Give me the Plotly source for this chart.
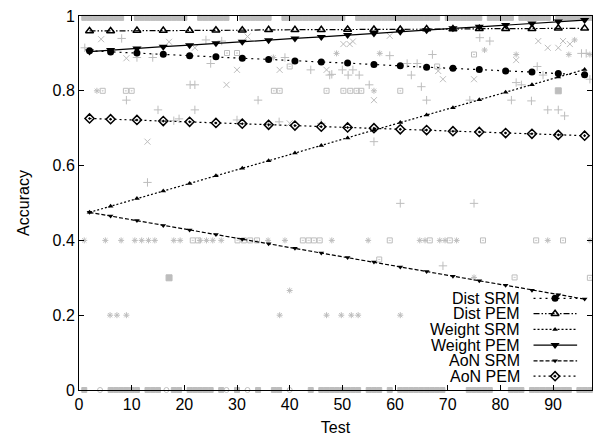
import plotly.graph_objects as go

# ---------------- data ----------------
mark_x = [2, 6, 11, 16, 21, 26, 31, 36, 41, 46, 51, 56, 61, 66, 71, 76, 81, 86, 91, 96]

dist_srm = [0.907, 0.904, 0.901, 0.898, 0.894, 0.891, 0.887, 0.884, 0.880, 0.877,
            0.874, 0.870, 0.867, 0.863, 0.860, 0.857, 0.853, 0.850, 0.846, 0.843]
dist_pem = [0.960, 0.960, 0.961, 0.961, 0.961, 0.962, 0.962, 0.963, 0.963, 0.963,
            0.964, 0.964, 0.964, 0.965, 0.965, 0.966, 0.966, 0.966, 0.967, 0.967]
weight_srm = [0.475, 0.491, 0.512, 0.532, 0.552, 0.573, 0.593, 0.613, 0.634, 0.654,
              0.674, 0.695, 0.715, 0.735, 0.755, 0.776, 0.796, 0.816, 0.837, 0.857]
weight_pem = [0.905, 0.909, 0.913, 0.918, 0.922, 0.927, 0.931, 0.935, 0.940, 0.944,
              0.949, 0.953, 0.958, 0.962, 0.967, 0.971, 0.976, 0.980, 0.985, 0.989]
aon_srm = [0.475, 0.465, 0.453, 0.440, 0.428, 0.416, 0.403, 0.391, 0.379, 0.366,
           0.354, 0.342, 0.329, 0.317, 0.304, 0.292, 0.280, 0.267, 0.255, 0.243]
aon_pem = [0.726, 0.724, 0.722, 0.719, 0.717, 0.714, 0.712, 0.709, 0.707, 0.704,
           0.702, 0.700, 0.697, 0.695, 0.692, 0.690, 0.687, 0.685, 0.682, 0.680]

series_names = ["Dist SRM", "Dist PEM", "Weight SRM", "Weight PEM", "AoN SRM", "AoN PEM"]

# background individual test results (gray)
plus_x = [1.1, 8.1, 11, 14, 24.1, 27.1, 25, 44, 48, 21.1, 22, 9, 34, 15, 22, 18, 19, 36, 46, 39.1, 13,
          30, 38, 76.1, 78, 59, 67.1, 95.4, 96.3, 47.6, 50, 51.1, 52, 53.2, 62.3, 64.2, 63.1, 87, 88.1,
          97, 55.1, 65, 66, 83, 84, 82.1, 85.9, 89, 91, 92.2, 74.2, 56, 61, 75, 69.1]
plus_y = [0.915, 0.940, 0.889, 0.889, 0.936, 0.933, 0.873, 0.856, 0.844, 0.816, 0.816, 0.775, 0.775,
          0.749, 0.749, 0.720, 0.725, 0.712, 0.713, 0.889, 0.555,
          0.722, 0.717, 0.942, 0.933, 0.894, 0.897, 0.900, 0.900, 0.842, 0.856, 0.842, 0.856, 0.842,
          0.873, 0.873, 0.842, 0.865, 0.842, 0.831, 0.816, 0.811, 0.775, 0.822, 0.816, 0.775, 0.773,
          0.749, 0.749, 0.733, 0.775, 0.664, 0.499, 0.499, 0.332]

cross_x = [4.2, 17.1, 32, 9, 22, 30, 38.1, 47, 28, 40, 13, 50.2, 51.4, 52, 59, 87.2, 89, 91, 91.9,
           93.2, 83, 68.2, 69.1, 75, 56]
cross_y = [0.938, 0.931, 0.945, 0.887, 0.915, 0.856, 0.856, 0.856, 0.816, 0.713, 0.664, 0.925, 0.925,
           0.932, 0.947, 0.933, 0.915, 0.915, 0.933, 0.925, 0.882, 0.853, 0.831, 0.831, 0.775]

star_x = [3.4, 36.9, 48.9, 57.1, 77, 83, 93, 97, 94.1, 56, 40, 75,
          5.9, 7.2, 9, 38.1, 47, 49.8, 51.7, 53, 61,
          1, 5, 8, 10.6, 11.9, 13.2, 14.4, 18, 19.2, 23, 24.2, 25.4, 27, 35.9, 39.1, 48, 54.9,
          64.7, 65.7, 68.5, 69.5, 71.7, 89, 97]
star_y = [0.8, 0.889, 0.9, 0.9, 0.909, 0.897, 0.897, 0.897, 0.936, 0.8, 0.266, 0.301,
          0.2, 0.2, 0.2, 0.2, 0.2, 0.2, 0.2, 0.2, 0.2,
          0.4, 0.4, 0.4, 0.4, 0.4, 0.4, 0.4, 0.4, 0.4, 0.4, 0.4, 0.4, 0.4, 0.4, 0.4, 0.4, 0.4,
          0.4, 0.4, 0.4, 0.4, 0.4, 0.4, 0.4]

box_x = [28.1, 30, 40, 4.5, 8.9, 10, 37, 38.1, 47, 75, 50.2, 51.5, 52.7, 53.6, 61, 57, 82.7, 97, 68,
         21.6, 22.6, 30.1, 31.3, 32.5, 33.8, 42.5, 43.6, 44.6, 45.7, 59, 66.6, 70.4, 76.7, 86.8, 91.9]
box_y = [0.901, 0.901, 0.865, 0.8, 0.8, 0.8, 0.8, 0.8, 0.8, 0.897, 0.8, 0.8, 0.8, 0.8, 0.8, 0.349,
         0.301, 0.3, 0.865,
         0.4, 0.4, 0.4, 0.4, 0.4, 0.4, 0.4, 0.4, 0.4, 0.4, 0.4, 0.4, 0.4, 0.4, 0.4, 0.4]

fbox_x = [17.1, 91]
fbox_y = [0.3, 0.8]

circ_x = [4, 16.6, 28, 32, 40, 69, 92.5]
circ_y = [0, 0, 0, 0, 0, 0, 0]

zero_x = [1, 6, 7, 8, 9, 10, 11, 13, 14, 15, 18, 19, 21, 22, 23, 24, 25, 27, 30, 34, 37, 38, 44,
          46, 47, 48, 49, 50, 51, 52, 53, 55, 56, 57, 59, 61, 62, 63, 64, 65, 66, 67, 68, 69,
          74, 75, 76, 77, 78, 82, 83, 84, 86, 87, 88, 89, 90, 91, 92, 93, 95, 96, 97]
zero_y = [0] * len(zero_x)

one_x = [1, 2, 3, 4, 5, 6, 7, 8, 11, 12, 13, 14, 15, 16, 17, 18, 19, 20, 23, 24, 25, 26, 27, 28,
         31, 32, 33, 34, 35, 36, 39, 40, 41, 42, 43, 44, 45, 46, 47, 48, 49, 50, 53, 54, 55, 56,
         57, 58, 59, 60, 61, 62, 63, 64, 65, 66, 67, 68, 70, 71, 72, 73, 74, 75, 76, 78, 79, 80,
         81, 82, 84, 85, 86, 87, 88, 89, 91, 92, 93, 94, 95, 96, 97]
one_y = [0.995] * len(one_x)

x_ticks = [0, 10, 20, 30, 40, 50, 60, 70, 80, 90]
y_ticks = [0, 0.2, 0.4, 0.6, 0.8, 1]

# ---------------- styles ----------------
GRAY = "#bdbdbd"
styles = {
    "Dist SRM":   dict(dash="2px,4px", symbol="circle", size=7, lw=0),
    "Dist PEM":   dict(dash="6px,2px,1.5px,2px,1.5px,2px", symbol="triangle-up-open", size=7, lw=1.5),
    "Weight SRM": dict(dash="2px,2px", symbol="triangle-up", size=5, lw=0),
    "Weight PEM": dict(dash="solid", symbol="triangle-down", size=8, lw=0),
    "AoN SRM":    dict(dash="4px,2px", symbol="triangle-down", size=5, lw=0),
    "AoN PEM":    dict(dash="2px,3px", symbol="diamond-open-dot", size=7, lw=1.5),
}
values = [dist_srm, dist_pem, weight_srm, weight_pem, aon_srm, aon_pem]

fig = go.Figure()

def gray(xs, ys, symbol, size):
    mk = dict(symbol=symbol, size=size, color=GRAY, line=dict(color=GRAY, width=1))
    fig.add_trace(go.Scatter(x=xs, y=ys, mode="markers", marker=mk, showlegend=False,
                             cliponaxis=False, hoverinfo="skip"))

gray(one_x, one_y, "square", 5)
gray(zero_x, zero_y, "square", 5)
gray(circ_x, circ_y, "circle-open", 5)
gray(plus_x, plus_y, "cross-thin", 6)
gray(cross_x, cross_y, "x-thin", 6)
gray(star_x, star_y, "asterisk", 5)
gray(box_x, box_y, "square-open-dot", 5)
gray(fbox_x, fbox_y, "square", 6)

for name, ys in zip(series_names, values):
    s = styles[name]
    fig.add_trace(go.Scatter(
        x=mark_x, y=ys, mode="lines+markers", name=name, showlegend=False,
        line=dict(color="black", width=1.2, dash=s["dash"]),
        marker=dict(symbol=s["symbol"], size=s["size"], color="black",
                    line=dict(color="black", width=s["lw"])),
        cliponaxis=False))

# manual gnuplot-style legend (text on the left, sample on the right)
leg_y = [0.245, 0.204, 0.162, 0.120, 0.078, 0.037]
annotations = []
for name, yy in zip(series_names, leg_y):
    s = styles[name]
    fig.add_trace(go.Scatter(
        x=[0.886, 0.971], y=[yy, yy], xaxis="x2", yaxis="y2", mode="lines", showlegend=False,
        line=dict(color="black", width=1.2, dash=s["dash"]), hoverinfo="skip"))
    fig.add_trace(go.Scatter(
        x=[0.928], y=[yy], xaxis="x2", yaxis="y2", mode="markers", showlegend=False,
        marker=dict(symbol=s["symbol"], size=s["size"], color="black",
                    line=dict(color="black", width=s["lw"])), hoverinfo="skip"))
    annotations.append(dict(x=0.8635, y=yy, xref="paper", yref="paper", text=name,
                            showarrow=False, xanchor="right", yanchor="middle",
                            font=dict(size=16, color="black")))

fig.update_layout(
    width=593, height=436,
    margin=dict(l=79, r=1, t=16, b=46),
    paper_bgcolor="white", plot_bgcolor="white",
    font=dict(family="Liberation Sans, Arial, sans-serif", size=16, color="black"),
    annotations=annotations,
    xaxis=dict(range=[0, 97.4], tickvals=x_ticks, ticks="inside", ticklen=5, tickcolor="black",
               showline=True, linecolor="black", linewidth=1, mirror="ticks", showgrid=False,
               zeroline=False, title=dict(text="Test", standoff=12, font=dict(size=16))),
    yaxis=dict(range=[0, 1], tickvals=y_ticks, ticks="inside", ticklen=5, tickcolor="black",
               showline=True, linecolor="black", linewidth=1, mirror="ticks", showgrid=False,
               zeroline=False, ticklabelstandoff=0,
               title=dict(text="Accuracy", standoff=18, font=dict(size=16))),
    xaxis2=dict(range=[0, 1], overlaying="x", visible=False, anchor="y2"),
    yaxis2=dict(range=[0, 1], overlaying="y", visible=False, anchor="x2"),
)

fig.write_html("out.html", config={"displayModeBar": False},
               post_script="document.body.style.margin='0';document.body.style.overflow='hidden';")
